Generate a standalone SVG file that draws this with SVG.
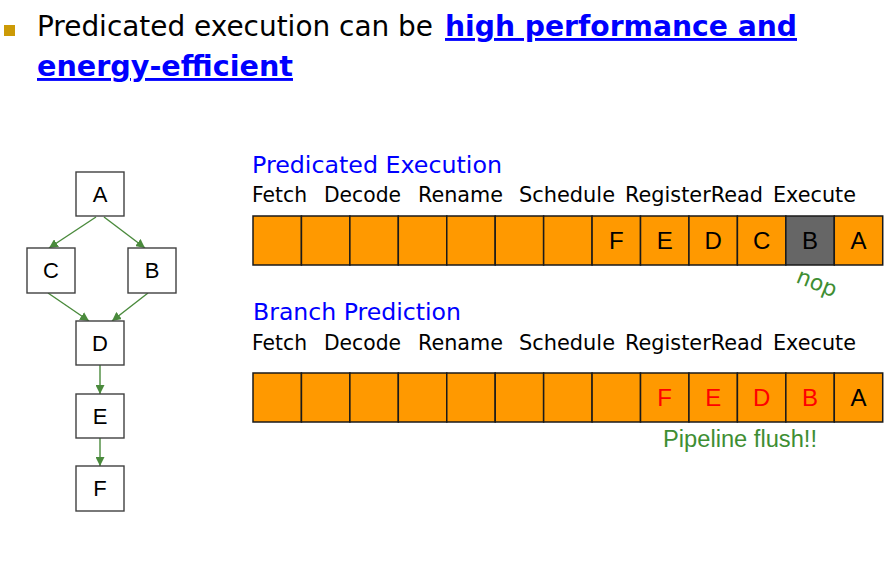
<svg xmlns="http://www.w3.org/2000/svg" width="889" height="570" viewBox="0 0 889 570">
<defs>
<style>
.title{font-family:"DejaVu Sans",Verdana,sans-serif;font-size:29px;fill:#000}
.link{font-family:"DejaVu Sans",Verdana,sans-serif;font-size:29px;font-weight:bold;fill:#0000FF;text-decoration:underline}
.head{font-family:"DejaVu Sans",Verdana,sans-serif;font-size:23px;fill:#0000FF}
.stage{font-family:"DejaVu Sans",Verdana,sans-serif;font-size:21px;fill:#000}
.node rect{fill:#fff;stroke:#404040;stroke-width:1.4}
.node text{font-family:"Liberation Sans",Arial,sans-serif;font-size:22px;fill:#000;text-anchor:middle}
.cell{fill:#FF9900;stroke:#1a1a1a;stroke-width:1.5}
.nopcell{fill:#666666;stroke:#1a1a1a;stroke-width:1.5}
.ltr{font-family:"Liberation Sans",Arial,sans-serif;font-size:24px;text-anchor:middle;fill:#000}
.red{fill:#FF0000}
.green{fill:#3E8E33}
.edge{stroke:#4A8A3C;stroke-width:1.4;fill:none;marker-end:url(#ah)}
</style>
<marker id="ah" viewBox="0 0 10 10" refX="10" refY="5" markerWidth="9" markerHeight="9" orient="auto" markerUnits="userSpaceOnUse">
<path d="M0,0 L10,5 L0,10 z" fill="#4A8A3C"/>
</marker>
</defs>
<rect width="889" height="570" fill="#fff"/>

<!-- title -->
<rect x="4" y="25" width="11" height="11" fill="#CC9A06"/>
<text class="title" x="37" y="36" textLength="396" lengthAdjust="spacingAndGlyphs">Predicated execution can be</text>
<text class="link" x="445" y="36" textLength="352" lengthAdjust="spacingAndGlyphs">high performance and</text>
<text class="link" x="37" y="76" textLength="256" lengthAdjust="spacingAndGlyphs">energy-efficient</text>

<!-- graph connectors -->
<g id="connectors">
<line class="edge" x1="96" y1="217" x2="49" y2="248"/>
<line class="edge" x1="104" y1="217" x2="145" y2="248"/>
<line class="edge" x1="48" y1="293" x2="89" y2="321"/>
<line class="edge" x1="148" y1="293" x2="112" y2="321"/>
<line class="edge" x1="100" y1="365" x2="100" y2="394"/>
<line class="edge" x1="100" y1="438" x2="100" y2="466"/>
</g>

<g id="node-A" class="node"><rect x="76" y="172" width="48" height="44"/><text x="100" y="202">A</text></g>
<g id="node-C" class="node"><rect x="27" y="248" width="48" height="45"/><text x="51" y="278">C</text></g>
<g id="node-B" class="node"><rect x="128" y="248" width="48" height="45"/><text x="152" y="278">B</text></g>
<g id="node-D" class="node"><rect x="76" y="321" width="48" height="44"/><text x="100" y="351">D</text></g>
<g id="node-E" class="node"><rect x="76" y="394" width="48" height="44"/><text x="100" y="424">E</text></g>
<g id="node-F" class="node"><rect x="76" y="466" width="48" height="45"/><text x="100" y="496">F</text></g>

<!-- Predicated Execution -->
<g id="predicated">
<text class="head" x="252" y="173" textLength="250" lengthAdjust="spacingAndGlyphs">Predicated Execution</text>
<text class="stage" x="252" y="202" textLength="55" lengthAdjust="spacingAndGlyphs">Fetch</text>
<text class="stage" x="324" y="202" textLength="77" lengthAdjust="spacingAndGlyphs">Decode</text>
<text class="stage" x="418" y="202" textLength="85" lengthAdjust="spacingAndGlyphs">Rename</text>
<text class="stage" x="519" y="202" textLength="96" lengthAdjust="spacingAndGlyphs">Schedule</text>
<text class="stage" x="625" y="202" textLength="138" lengthAdjust="spacingAndGlyphs">RegisterRead</text>
<text class="stage" x="773" y="202" textLength="83" lengthAdjust="spacingAndGlyphs">Execute</text>
<rect class="cell" x="253" y="216" width="48.44" height="49"/>
<rect class="cell" x="301.44" y="216" width="48.44" height="49"/>
<rect class="cell" x="349.88" y="216" width="48.44" height="49"/>
<rect class="cell" x="398.32" y="216" width="48.44" height="49"/>
<rect class="cell" x="446.76" y="216" width="48.44" height="49"/>
<rect class="cell" x="495.2" y="216" width="48.44" height="49"/>
<rect class="cell" x="543.64" y="216" width="48.44" height="49"/>
<rect class="cell" x="592.08" y="216" width="48.44" height="49"/>
<rect class="cell" x="640.52" y="216" width="48.44" height="49"/>
<rect class="cell" x="688.96" y="216" width="48.44" height="49"/>
<rect class="cell" x="737.4" y="216" width="48.44" height="49"/>
<rect class="nopcell" x="785.84" y="216" width="48.44" height="49"/>
<rect class="cell" x="834.28" y="216" width="48.44" height="49"/>
<text class="ltr" x="616.3" y="249">F</text>
<text class="ltr" x="664.7" y="249">E</text>
<text class="ltr" x="713.2" y="249">D</text>
<text class="ltr" x="761.6" y="249">C</text>
<text class="ltr" x="810.1" y="249">B</text>
<text class="ltr" x="858.5" y="249">A</text>
<text class="green" font-family="DejaVu Sans" font-size="22" transform="translate(795,282) rotate(22)">nop</text>
</g>

<!-- Branch Prediction -->
<g id="branch">
<text class="head" x="253" y="320" textLength="208" lengthAdjust="spacingAndGlyphs">Branch Prediction</text>
<text class="stage" x="252" y="350" textLength="55" lengthAdjust="spacingAndGlyphs">Fetch</text>
<text class="stage" x="324" y="350" textLength="77" lengthAdjust="spacingAndGlyphs">Decode</text>
<text class="stage" x="418" y="350" textLength="85" lengthAdjust="spacingAndGlyphs">Rename</text>
<text class="stage" x="519" y="350" textLength="96" lengthAdjust="spacingAndGlyphs">Schedule</text>
<text class="stage" x="625" y="350" textLength="138" lengthAdjust="spacingAndGlyphs">RegisterRead</text>
<text class="stage" x="773" y="350" textLength="83" lengthAdjust="spacingAndGlyphs">Execute</text>
<rect class="cell" x="253" y="373" width="48.44" height="49"/>
<rect class="cell" x="301.44" y="373" width="48.44" height="49"/>
<rect class="cell" x="349.88" y="373" width="48.44" height="49"/>
<rect class="cell" x="398.32" y="373" width="48.44" height="49"/>
<rect class="cell" x="446.76" y="373" width="48.44" height="49"/>
<rect class="cell" x="495.2" y="373" width="48.44" height="49"/>
<rect class="cell" x="543.64" y="373" width="48.44" height="49"/>
<rect class="cell" x="592.08" y="373" width="48.44" height="49"/>
<rect class="cell" x="640.52" y="373" width="48.44" height="49"/>
<rect class="cell" x="688.96" y="373" width="48.44" height="49"/>
<rect class="cell" x="737.4" y="373" width="48.44" height="49"/>
<rect class="cell" x="785.84" y="373" width="48.44" height="49"/>
<rect class="cell" x="834.28" y="373" width="48.44" height="49"/>
<text class="ltr red" x="664.7" y="406">F</text>
<text class="ltr red" x="713.2" y="406">E</text>
<text class="ltr red" x="761.6" y="406">D</text>
<text class="ltr red" x="810.1" y="406">B</text>
<text class="ltr" x="858.5" y="406">A</text>
<text class="green" font-family="Liberation Sans, Arial, sans-serif" font-size="23" x="740" y="447" text-anchor="middle" textLength="154" lengthAdjust="spacingAndGlyphs">Pipeline flush!!</text>
</g>
</svg>
